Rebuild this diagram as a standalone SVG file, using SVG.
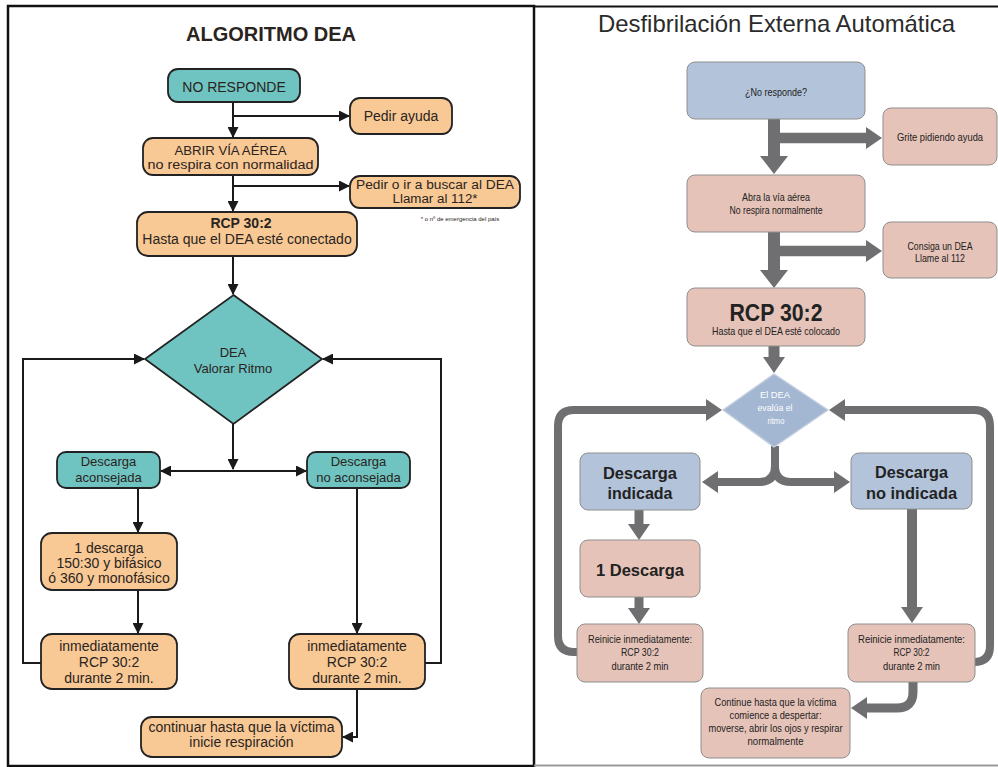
<svg xmlns="http://www.w3.org/2000/svg" width="998" height="767" viewBox="0 0 998 767">
<defs>
<style>
.t{font-family:"Liberation Sans",Arial,sans-serif;text-anchor:middle;fill:#2a2420}
.l14{font-size:14px}
.l13{font-size:13px}
.l12{font-size:12px}
.ob{fill:#F8C895;stroke:#222;stroke-width:1.8}
.tb{fill:#6FC3C0;stroke:#222;stroke-width:1.8}
.la{fill:none;stroke:#1a1a1a;stroke-width:2}
.bb{fill:#B2C3DA;stroke:#8F8F8F;stroke-width:1}
.pb{fill:#E6C3B8;stroke:#8F8F8F;stroke-width:1}
.rt{font-family:"Liberation Sans",Arial,sans-serif;text-anchor:middle;fill:#222;font-size:11.5px}
.rs{font-size:10.5px}
.rbold{font-family:"Liberation Sans",Arial,sans-serif;text-anchor:middle;fill:#222;font-weight:bold;font-size:17px}
.ra{fill:none;stroke:#6F6F71}
</style>
<marker id="ma" markerUnits="userSpaceOnUse" markerWidth="11" markerHeight="11" refX="10" refY="5.5" orient="auto"><path d="M0,0 L11,5.5 L0,11 z" fill="#1a1a1a"/></marker>
<marker id="mb" markerUnits="userSpaceOnUse" markerWidth="18" markerHeight="28" refX="0" refY="14" orient="auto"><path d="M0,0 L18,14 L0,28 z" fill="#6F6F71"/></marker>
<marker id="ms" markerUnits="userSpaceOnUse" markerWidth="16" markerHeight="22" refX="0" refY="11" orient="auto"><path d="M0,0 L16,11 L0,22 z" fill="#6F6F71"/></marker>
</defs>
<rect x="0" y="0" width="998" height="767" fill="#fff"/>
<!-- panel borders -->
<rect x="8" y="6" width="526" height="760" fill="none" stroke="#111" stroke-width="2.5"/>
<line x1="534" y1="6.5" x2="998" y2="6.5" stroke="#111" stroke-width="2"/>
<line x1="534" y1="765.5" x2="998" y2="765.5" stroke="#999" stroke-width="2"/>

<text class="t" x="271" y="41" style="font-size:20px;font-weight:bold" fill="#222">ALGORITMO DEA</text>
<text x="776.5" y="32" style="font-family:'Liberation Sans',Arial,sans-serif;font-size:24px;text-anchor:middle" fill="#2b2b2b" textLength="357" lengthAdjust="spacingAndGlyphs">Desfibrilación Externa Automática</text>

<g id="connectors">
<path class="la" d="M233,102 V137" marker-end="url(#ma)"/>
<path class="la" d="M233,116 H349" marker-end="url(#ma)"/>
<path class="la" d="M233,175 V211" marker-end="url(#ma)"/>
<path class="la" d="M233,186 H349" marker-end="url(#ma)"/>
<path class="la" d="M233,256 V294" marker-end="url(#ma)"/>
<path class="la" d="M233,424 V469" marker-end="url(#ma)"/>
<path class="la" d="M233,471 H161" marker-end="url(#ma)"/>
<path class="la" d="M233,471 H306" marker-end="url(#ma)"/>
<path class="la" d="M41,663 H23 V359 H144" marker-end="url(#ma)"/>
<path class="la" d="M425,663 H441 V359 H323" marker-end="url(#ma)"/>
<path class="la" d="M138,488 V532" marker-end="url(#ma)"/>
<path class="la" d="M138,590 V633" marker-end="url(#ma)"/>
<path class="la" d="M357,488 V633" marker-end="url(#ma)"/>
<path class="la" d="M357,689 V737 H343" marker-end="url(#ma)"/>

<path class="ra" stroke-width="12" d="M774,119 V156" marker-end="url(#mb)"/>
<path class="ra" stroke-width="10.5" d="M774,138 H866" marker-end="url(#ms)"/>
<path class="ra" stroke-width="12" d="M774,232 V270" marker-end="url(#mb)"/>
<path class="ra" stroke-width="10.5" d="M774,251 H866" marker-end="url(#ms)"/>
<path class="ra" stroke-width="11" d="M774,346 V357" marker-end="url(#ms)"/>
<path class="ra" stroke-width="8" d="M578,652 H574 Q558,652 558,636 V426 Q558,410 574,410 H706" marker-end="url(#ms)"/>
<path class="ra" stroke-width="8" d="M974,662 Q990,662 990,646 V426 Q990,410 974,410 H845" marker-end="url(#ms)"/>
<path class="ra" stroke-width="8" d="M775,446 V466 Q775,482 759,482 H718" marker-end="url(#ms)"/>
<path class="ra" stroke-width="8" d="M775,446 V466 Q775,482 791,482 H834" marker-end="url(#ms)"/>
<path class="ra" stroke-width="9" d="M639,510 V524" marker-end="url(#ms)"/>
<path class="ra" stroke-width="9" d="M639,597 V608" marker-end="url(#ms)"/>
<path class="ra" stroke-width="10" d="M912,509 V607" marker-end="url(#ms)"/>
<path class="ra" stroke-width="9" d="M913,682 V692 Q913,708 897,708 H867" marker-end="url(#ms)"/>
</g>

<!-- LEFT NODES -->
<g id="l-noresponde"><rect class="tb" x="168" y="69" width="132" height="33" rx="10"/><text class="t l14" x="234" y="92">NO RESPONDE</text></g>
<g id="l-pedirayuda"><rect class="ob" x="350" y="98" width="102" height="36" rx="10"/><text class="t l14" x="401" y="121">Pedir ayuda</text></g>
<g id="l-abrir"><rect class="ob" x="143" y="138" width="175" height="37" rx="10"/><text class="t l12" x="230.5" y="155" textLength="112" lengthAdjust="spacingAndGlyphs">ABRIR VÍA AÉREA</text><text class="t l12" x="230.5" y="168.5" textLength="166" lengthAdjust="spacingAndGlyphs">no respira con normalidad</text></g>
<g id="l-pedirdea"><rect class="ob" x="350" y="176" width="170" height="32" rx="10"/><text class="t l12" x="435" y="189" textLength="158" lengthAdjust="spacingAndGlyphs">Pedir o ir a buscar al DEA</text><text class="t l12" x="435" y="203" textLength="85" lengthAdjust="spacingAndGlyphs">Llamar al 112*</text><text class="t" x="460" y="221" style="font-size:6px" fill="#555">* o nº de emergencia del país</text></g>
<g id="l-rcp"><rect class="ob" x="137" y="212" width="220" height="44" rx="11"/><text class="t l14" x="241" y="228" font-weight="bold">RCP 30:2</text><text class="t l14" x="247" y="244">Hasta que el DEA esté conectado</text></g>
<g id="l-dea"><polygon class="tb" points="233.5,295 322,359 233.5,424 145,359"/><text class="t l13" x="233" y="357">DEA</text><text class="t l13" x="233" y="373">Valorar Ritmo</text></g>
<g id="l-aconsejada"><rect class="tb" x="57" y="452" width="103" height="36" rx="9"/><text class="t l13" x="108.5" y="466">Descarga</text><text class="t l13" x="108.5" y="482">aconsejada</text></g>
<g id="l-noaconsejada"><rect class="tb" x="307" y="452" width="103" height="36" rx="9"/><text class="t l13" x="358.5" y="466">Descarga</text><text class="t l13" x="358.5" y="482">no aconsejada</text></g>
<g id="l-descarga"><rect class="ob" x="41" y="533" width="136" height="57" rx="11"/><text class="t l14" x="109" y="553">1 descarga</text><text class="t l14" x="109" y="568">150:30 y bifásico</text><text class="t l14" x="109" y="583">ó 360 y monofásico</text></g>
<g id="l-inmed1"><rect class="ob" x="41" y="634" width="136" height="55" rx="11"/><text class="t l14" x="109" y="651">inmediatamente</text><text class="t l14" x="109" y="667">RCP 30:2</text><text class="t l14" x="109" y="683">durante 2 min.</text></g>
<g id="l-inmed2"><rect class="ob" x="289" y="634" width="136" height="55" rx="11"/><text class="t l14" x="357" y="651">inmediatamente</text><text class="t l14" x="357" y="667">RCP 30:2</text><text class="t l14" x="357" y="683">durante 2 min.</text></g>
<g id="l-continuar"><rect class="ob" x="141" y="717" width="201" height="40" rx="11"/><text class="t l14" x="241.5" y="732">continuar hasta que la víctima</text><text class="t l14" x="241.5" y="747">inicie respiración</text></g>

<!-- RIGHT NODES -->
<g id="r-noresponde"><rect class="bb" x="687" y="62" width="178" height="57" rx="8"/><text class="rt" x="776" y="96" textLength="62" lengthAdjust="spacingAndGlyphs">¿No responde?</text></g>
<g id="r-grite"><rect class="pb" x="883" y="108" width="114" height="57" rx="8"/><text class="rt rs" x="940" y="141" textLength="86" lengthAdjust="spacingAndGlyphs">Grite pidiendo ayuda</text></g>
<g id="r-abra"><rect class="pb" x="687" y="175" width="178" height="57" rx="8"/><text class="rt" x="776" y="201" textLength="68" lengthAdjust="spacingAndGlyphs">Abra la vía aérea</text><text class="rt" x="776" y="214" textLength="93" lengthAdjust="spacingAndGlyphs">No respira normalmente</text></g>
<g id="r-consiga"><rect class="pb" x="883" y="222" width="114" height="56" rx="8"/><text class="rt" x="940" y="250" textLength="65" lengthAdjust="spacingAndGlyphs">Consiga un DEA</text><text class="rt" x="940" y="262" textLength="50" lengthAdjust="spacingAndGlyphs">Llame al 112</text></g>
<g id="r-rcp"><rect class="pb" x="687" y="288" width="178" height="58" rx="8"/><text class="rbold" x="776" y="321" style="font-size:23px" textLength="93" lengthAdjust="spacingAndGlyphs">RCP 30:2</text><text class="rt rs" x="776" y="335" textLength="128" lengthAdjust="spacingAndGlyphs">Hasta que el DEA esté colocado</text></g>
<g id="r-dea"><polygon points="774,374 828,410 774,447 723,410" fill="#A3B6D2" stroke="#C3CEDF" stroke-width="1.5" stroke-linejoin="round"/><text class="rt" x="775" y="398" style="font-size:9px;fill:#fff" textLength="30" lengthAdjust="spacingAndGlyphs">El DEA</text><text class="rt" x="775" y="411" style="font-size:9px;fill:#fff" textLength="35" lengthAdjust="spacingAndGlyphs">evalúa el</text><text class="rt" x="776" y="424" style="font-size:9px;fill:#fff" textLength="17" lengthAdjust="spacingAndGlyphs">ritmo</text></g>
<g id="r-indicada"><rect class="bb" x="580" y="453" width="120" height="57" rx="8" fill="#A9BCD6"/><text class="rbold" x="640" y="479" textLength="74" lengthAdjust="spacingAndGlyphs">Descarga</text><text class="rbold" x="640" y="499" textLength="65" lengthAdjust="spacingAndGlyphs">indicada</text></g>
<g id="r-noindicada"><rect class="bb" x="851" y="453" width="121" height="56" rx="8"/><text class="rbold" x="911.5" y="478" textLength="73" lengthAdjust="spacingAndGlyphs">Descarga</text><text class="rbold" x="911.5" y="499" textLength="91" lengthAdjust="spacingAndGlyphs">no indicada</text></g>
<g id="r-1descarga"><rect class="pb" x="580" y="540" width="120" height="57" rx="8"/><text class="rbold" x="640" y="576" textLength="88" lengthAdjust="spacingAndGlyphs">1 Descarga</text></g>
<g id="r-reinicie1"><rect class="pb" x="577" y="624" width="126" height="58" rx="8"/><text class="rt rs" x="640" y="643" textLength="104" lengthAdjust="spacingAndGlyphs">Reinicie inmediatamente:</text><text class="rt rs" x="640" y="656" textLength="38" lengthAdjust="spacingAndGlyphs">RCP 30:2</text><text class="rt rs" x="640" y="670" textLength="57" lengthAdjust="spacingAndGlyphs">durante 2 min</text></g>
<g id="r-reinicie2"><rect class="pb" x="848" y="624" width="127" height="58" rx="8"/><text class="rt rs" x="911.5" y="643" textLength="107" lengthAdjust="spacingAndGlyphs">Reinicie inmediatamente:</text><text class="rt rs" x="911.5" y="656" textLength="36" lengthAdjust="spacingAndGlyphs">RCP 30:2</text><text class="rt rs" x="911.5" y="670" textLength="57" lengthAdjust="spacingAndGlyphs">durante 2 min</text></g>
<g id="r-continue"><rect class="pb" x="701" y="688" width="149" height="70" rx="8"/><text class="rt rs" x="775.5" y="706" textLength="122" lengthAdjust="spacingAndGlyphs">Continue hasta que la víctima</text><text class="rt rs" x="775.5" y="719" textLength="92" lengthAdjust="spacingAndGlyphs">comience a despertar:</text><text class="rt rs" x="775.5" y="732" textLength="134" lengthAdjust="spacingAndGlyphs">moverse, abrir los ojos y respirar</text><text class="rt rs" x="775.5" y="745" textLength="56" lengthAdjust="spacingAndGlyphs">normalmente</text></g>
</svg>
